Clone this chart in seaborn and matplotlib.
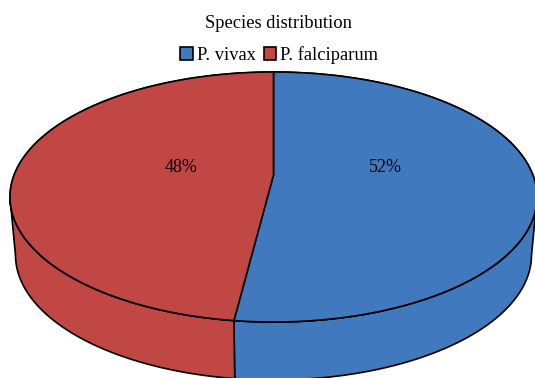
import numpy as np
import matplotlib.pyplot as plt
import seaborn as sns

# Species distribution
species = ['P. vivax', 'P. falciparum']
shares = [52.4, 47.6]
colors = ['#4079BD', '#C04743']

sns.set_theme(style="white")
plt.rcParams['font.family'] = ['Liberation Serif', 'DejaVu Serif']

fig = plt.figure(figsize=(5.35, 3.78), dpi=100)
ax = fig.add_axes([0, 0, 1, 1])

# Base pie, flattened into an ellipse by the axis limits below
wedges, _, pct = ax.pie(shares, colors=colors, startangle=90, counterclock=False,
                        autopct='%.0f%%', radius=1,
                        wedgeprops={'edgecolor': 'black', 'linewidth': 1.2, 'zorder': 3})

# The labels sit closer to the middle than the pie would put them
label_x = [0.423, -0.35]
for t, x in zip(pct, label_x):
    t.set_position((x, 0.232))
    t.set_fontsize(13)
    t.set_color('black')
    t.set_zorder(5)

drop = 58 / 125       # lower ellipse shifted down
shrink = 258 / 263.5  # and a bit narrower
apex = 22 / 125       # perspective moves the slice point above the ellipse centre
for w, c in zip(wedges, colors):
    arc = np.radians(np.linspace(w.theta1, w.theta2, 400))

    # side wall, only the front half shows
    a = arc[np.sin(arc) <= 0]
    xs = np.r_[np.cos(a), shrink * np.cos(a[::-1])]
    ys = np.r_[np.sin(a), np.sin(a[::-1]) - drop]
    ax.fill(xs, ys, facecolor=c, edgecolor='black', linewidth=1.2, zorder=2)

    # top face with the shifted point
    ax.fill(np.r_[0, np.cos(arc)], np.r_[apex, np.sin(arc)], facecolor=c,
            edgecolor='black', linewidth=1.2, zorder=4)

ax.set_aspect('auto')
ax.set_xlim(-273.5 / 263.5, (535 - 273.5) / 263.5)
ax.set_ylim(-(378 - 197) / 125, 197 / 125)

fig.text(0.52, 0.939, 'Species distribution', ha='center', va='center', fontsize=13.3, color='black')
fig.legend(wedges, species, loc='center', bbox_to_anchor=(0.522, 0.854), ncol=2, frameon=False,
           fontsize=13.3, handlelength=0.68, handleheight=0.68, handletextpad=0.2,
           columnspacing=0.45, borderpad=0, labelcolor='black')

fig.savefig('out.png', dpi=100)
